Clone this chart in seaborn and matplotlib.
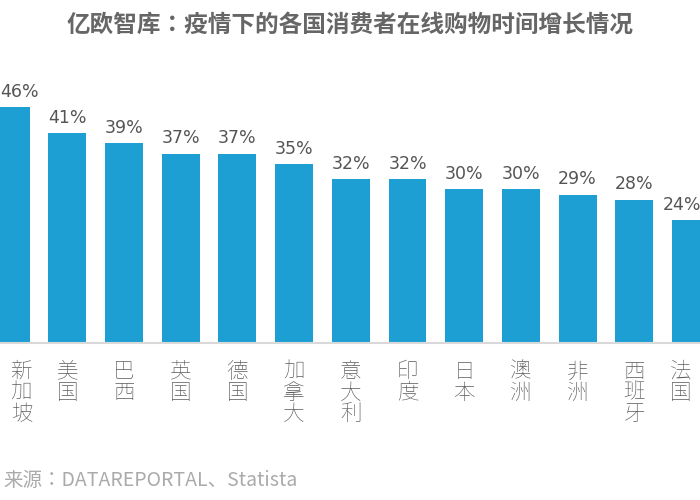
import matplotlib
matplotlib.use("Agg")
import matplotlib.pyplot as plt
import seaborn as sns
import pandas as pd

countries = ["新加坡","美国","巴西","英国","德国","加拿大","意大利","印度","日本","澳洲","非洲","西班牙","法国"]
values = [46,41,39,37,37,35,32,32,30,30,29,28,24]
title = "亿欧智库：疫情下的各国消费者在线购物时间增长情况"
source = "来源：DATAREPORTAL、Statista"

plt.rcParams["font.family"] = ["Noto Sans CJK SC", "Noto Sans CJK JP", "Noto Sans CJK TC", "DejaVu Sans"]
df = pd.DataFrame({"c": countries, "v": values})
fig = plt.figure(figsize=(7,5), dpi=100)
ax = fig.add_axes([0, 157/500, 1, (343-60)/500])
sns.barplot(data=df, x="c", y="v", color="#1E9FD4", saturation=1, width=0.67, ax=ax)
ax.set_xlim(-0.187, -0.187+700/56.7)
ax.set_ylim(0, (343-60)/5.12)
n = len(values)
for i, v in enumerate(values):
    ha = "left" if i == 0 else ("right" if i == n-1 else "center")
    x = i - 0.18 if i == 0 else (i + 0.18 if i == n-1 else i)
    ax.text(x, v+1.2, f"{v}%", ha=ha, va="bottom", fontsize=12.5, color="#555555", family="DejaVu Sans")
for s in ["top","right","left"]:
    ax.spines[s].set_visible(False)
ax.spines["bottom"].set_color("#d9d9d9")
ax.spines["bottom"].set_linewidth(1.5)
ax.set_yticks([])
ax.set_xticks(range(n))
labels = ax.set_xticklabels(["\n".join(c) for c in countries], fontsize=15.5, color="#595959",
                   linespacing=0.9, va="top", fontweight="light")
labels[-1].set_ha("right")
labels[0].set_ha("left")
ax.tick_params(axis="x", length=0, pad=12)
ax.set_xlabel(""); ax.set_ylabel("")
fig.text(0.5, 0.975, title, fontsize=17, fontweight="bold", color="#666666", va="top", ha="center")
fig.text(0.005, 0.018, source, fontsize=14, color="#aaaaaa", va="bottom", ha="left")
fig.savefig("out.png", dpi=100)
